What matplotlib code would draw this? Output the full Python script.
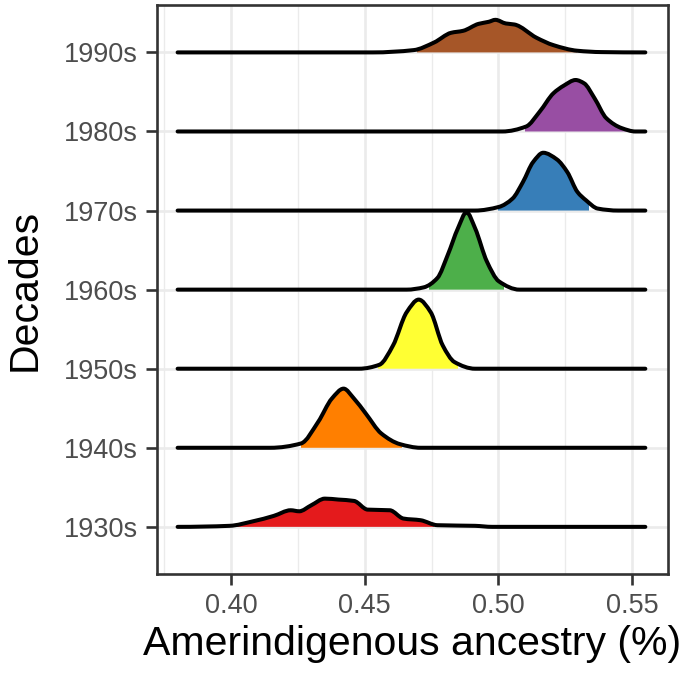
import matplotlib.pyplot as plt
from matplotlib.patches import Rectangle, PathPatch
from matplotlib.path import Path
from matplotlib.ticker import MultipleLocator

# decades, bottom to top
decades = ["1930s", "1940s", "1950s", "1960s", "1970s", "1980s", "1990s"]
colors = ["#E41A1C", "#FF7F00", "#FFFF33", "#4DAF4A", "#377EB8", "#984EA3", "#A65628"]

# ridge outlines: ancestry values and heights (in row units)
x_1930 = [0.380, 0.3994, 0.4083, 0.4160, 0.4223, 0.4255, 0.4300, 0.4351, 0.4402, 0.4460,
          0.4511, 0.4594, 0.4645, 0.4709, 0.4772, 0.4913, 0.4977, 0.555]
h_1930 = [0.0, 0.013, 0.071, 0.139, 0.210, 0.197, 0.273, 0.357, 0.345, 0.328,
          0.218, 0.210, 0.105, 0.084, 0.021, 0.013, 0.0, 0.0]

x_1940 = [0.380, 0.4147, 0.4262, 0.4326, 0.4377, 0.4421, 0.4460, 0.4504, 0.4562, 0.4632, 0.4709, 0.555]
h_1940 = [0.0, 0.0, 0.055, 0.328, 0.622, 0.748, 0.622, 0.433, 0.181, 0.046, 0.0, 0.0]

x_1950 = [0.380, 0.4479, 0.4555, 0.4606, 0.4657, 0.4702, 0.4747, 0.4792, 0.4836, 0.4913, 0.555]
h_1950 = [0.0, 0.0, 0.050, 0.294, 0.714, 0.874, 0.714, 0.294, 0.084, 0.0, 0.0]

x_1960 = [0.380, 0.4657, 0.4721, 0.4772, 0.4811, 0.4849, 0.4881, 0.4913, 0.4957, 0.5002, 0.5079, 0.555]
h_1960 = [0.0, 0.0, 0.029, 0.147, 0.441, 0.777, 0.979, 0.777, 0.357, 0.105, 0.0, 0.0]

x_1970 = [0.380, 0.4913, 0.5002, 0.5053, 0.5092, 0.5130, 0.5168, 0.5219, 0.5258, 0.5296,
          0.5328, 0.5372, 0.5449, 0.555]
h_1970 = [0.0, 0.0, 0.046, 0.151, 0.361, 0.613, 0.731, 0.647, 0.487, 0.235,
          0.130, 0.025, 0.0, 0.0]

x_1980 = [0.380, 0.5015, 0.5104, 0.5155, 0.5206, 0.5245, 0.5289, 0.5321, 0.5360, 0.5404, 0.5462, 0.5513, 0.555]
h_1980 = [0.0, 0.0, 0.063, 0.252, 0.483, 0.580, 0.651, 0.609, 0.420, 0.168, 0.042, 0.0, 0.0]

x_1990 = [0.380, 0.4530, 0.4683, 0.4760, 0.4823, 0.4868, 0.4926, 0.4964, 0.4989, 0.5028,
          0.5060, 0.5143, 0.5206, 0.5296, 0.5385, 0.555]
h_1990 = [0.0, 0.0, 0.029, 0.126, 0.248, 0.273, 0.361, 0.387, 0.412, 0.366,
          0.353, 0.185, 0.092, 0.021, 0.004, 0.0]

# coloured part of each ridge (lower, upper)
fill_lo = [0.401, 0.426, 0.455, 0.474, 0.500, 0.510, 0.4695]
fill_hi = [0.476, 0.464, 0.485, 0.502, 0.534, 0.549, 0.5293]

ridges_x = [x_1930, x_1940, x_1950, x_1960, x_1970, x_1980, x_1990]
ridges_h = [h_1930, h_1940, h_1950, h_1960, h_1970, h_1980, h_1990]


def ridge_path(xs, ys):
    """Smooth bezier path through the points (monotone slopes, no overshoot)."""
    n = len(xs)
    d = [(ys[k + 1] - ys[k]) / (xs[k + 1] - xs[k]) for k in range(n - 1)]
    m = [0.0] * n
    for k in range(1, n - 1):
        if d[k - 1] * d[k] > 0:
            h0 = xs[k] - xs[k - 1]
            h1 = xs[k + 1] - xs[k]
            w1 = 2 * h1 + h0
            w2 = h1 + 2 * h0
            m[k] = (w1 + w2) / (w1 / d[k - 1] + w2 / d[k])
    verts = [(xs[0], ys[0])]
    codes = [Path.MOVETO]
    for k in range(n - 1):
        dx = (xs[k + 1] - xs[k]) / 3
        verts += [(xs[k] + dx, ys[k] + m[k] * dx),
                  (xs[k + 1] - dx, ys[k + 1] - m[k + 1] * dx),
                  (xs[k + 1], ys[k + 1])]
        codes += [Path.CURVE4] * 3
    return verts, codes


plt.rcParams['font.family'] = ['Liberation Sans', 'DejaVu Sans']

fig = plt.figure(figsize=(6.93, 6.80), dpi=100)
ax = fig.add_axes([0.2266, 0.1559, 0.7374, 0.8368])

# top ridge first so lower ridges sit on top
n = len(decades)
for t, i in enumerate(range(n - 1, -1, -1)):
    base = i + 1
    xs = ridges_x[i]
    ys = [base + h for h in ridges_h[i]]
    verts, codes = ridge_path(xs, ys)

    area = Path(verts + [(xs[-1], base), (xs[0], base), (xs[0], base)],
                codes + [Path.LINETO, Path.LINETO, Path.CLOSEPOLY])
    fill = PathPatch(area, facecolor=colors[i], edgecolor="none", zorder=2 + 2 * t)
    ax.add_patch(fill)
    fill.set_clip_path(Rectangle((fill_lo[i], base - 0.05), fill_hi[i] - fill_lo[i], 2,
                                 transform=ax.transData))

    outline = PathPatch(Path(verts, codes), fill=False, edgecolor="black", lw=2.9,
                        capstyle="round", joinstyle="round", zorder=3 + 2 * t)
    ax.add_patch(outline)

ax.set_xlim(0.3723, 0.5635)
ax.set_ylim(0.404, 7.60)
ax.set_yticks(range(1, n + 1))
ax.set_yticklabels(decades)
ax.set_xticks([0.40, 0.45, 0.50, 0.55])
ax.set_xticklabels(["0.40", "0.45", "0.50", "0.55"])
ax.xaxis.set_minor_locator(MultipleLocator(0.025))

ax.grid(which="major", color="#EBEBEB", lw=1.9, zorder=0)
ax.grid(which="minor", axis="x", color="#EBEBEB", lw=1.0, zorder=0)
ax.set_axisbelow(True)

for s in ax.spines.values():
    s.set_color("#333333")
    s.set_linewidth(1.9)

ax.tick_params(which="major", length=8, width=1.9, color="#333333",
               labelcolor="#4D4D4D", labelsize=19.5, pad=6)
ax.tick_params(which="minor", length=0)

ax.set_xlabel("Amerindigenous ancestry (%)", fontsize=29.5, labelpad=4)
ax.set_ylabel("Decades", fontsize=29.5, labelpad=14)

fig.savefig("out.png", dpi=100)
